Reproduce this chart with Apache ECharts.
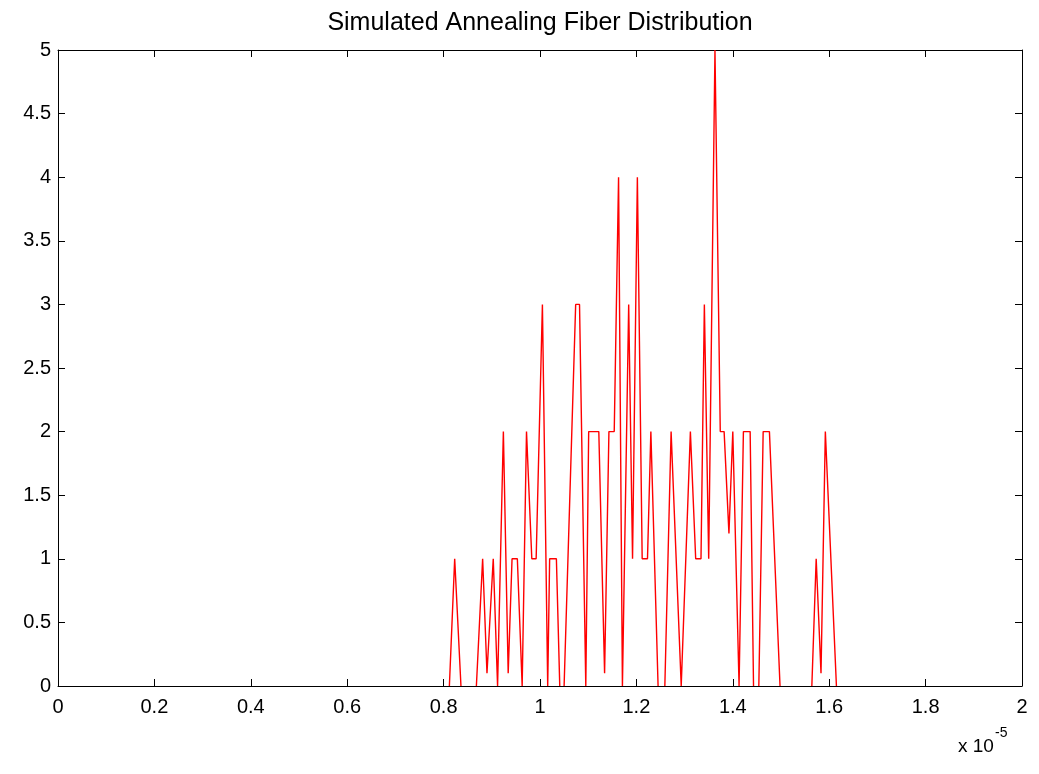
<!DOCTYPE html>
<html>
<head>
<meta charset="utf-8">
<script src="https://cdn.jsdelivr.net/npm/echarts@6/dist/echarts.min.js"></script>
<style>
  html, body { margin: 0; padding: 0; background: #fff; }
  #chart { width: 1039px; height: 774px; }
</style>
</head>
<body>
<div id="chart"></div>
<script>
// fibre diameter (x 10^-5) at each corner
const fiberX = [
  0.812, 0.823, 0.836, 0.868, 0.881, 0.890, 0.903, 0.912, 0.924, 0.934,
  0.942, 0.953, 0.963, 0.972, 0.983, 0.992, 1.005, 1.016, 1.020, 1.034,
  1.041, 1.050, 1.074, 1.082, 1.095, 1.101, 1.122, 1.134, 1.143, 1.154,
  1.163, 1.171, 1.184, 1.192, 1.202, 1.212, 1.223, 1.230, 1.245, 1.259,
  1.272, 1.293, 1.312, 1.323, 1.334, 1.341, 1.350, 1.363, 1.374, 1.382,
  1.392, 1.400, 1.413, 1.422, 1.436, 1.443, 1.454, 1.463, 1.476, 1.498,
  1.564, 1.573, 1.583, 1.592, 1.615
]
// count at each of those points
const fiberCount = [
  0, 1, 0, 0, 1, 0.1, 1, 0, 2, 0.1,
  1, 1, 0, 2, 1, 1, 3, 0, 1, 1,
  0, 0, 3, 3, 0, 2, 2, 0.1, 2, 2,
  4, 0, 3, 1, 4, 1, 1, 2, 0, 0,
  2, 0, 2, 1, 1, 3, 1, 5, 2, 2,
  1.2, 2, 0, 2, 2, 0, 0, 2, 2, 0,
  0, 1, 0.1, 2, 0
]
const xTicks = { min: 0, max: 2, step: 0.2 }
const yTicks = { min: 0, max: 5, step: 0.5 }

// the curve is hidden under the x axis where it sits at zero, so break it there
const lineData = []
fiberX.forEach((x, i) => {
  lineData.push([x, fiberCount[i]])
  if (i < fiberX.length - 1 && fiberCount[i] === 0 && fiberCount[i + 1] === 0) {
    lineData.push([x, '-'])
  }
})

const chart = echarts.init(document.getElementById('chart'))
const font = '"Liberation Sans Narrow", "Liberation Sans", Arial, sans-serif'

const axisCommon = {
  type: 'value',
  axisLine: { show: true, onZero: false, lineStyle: { color: '#000', width: 1 } },
  axisTick: { show: true, inside: true, length: 7, lineStyle: { color: '#000' } },
  splitLine: { show: false }
}

chart.setOption({
  animation: false,
  backgroundColor: '#fff',
  title: {
    text: 'Simulated Annealing Fiber Distribution',
    left: 535,
    top: 6,
    textAlign: 'center',
    textStyle: { fontFamily: font, fontSize: 25, fontWeight: 'normal', color: '#000' }
  },
  grid: { left: 58, right: 17, top: 50, bottom: 88, outerBoundsMode: 'none' },
  xAxis: [
    Object.assign({}, axisCommon, {
      position: 'bottom',
      min: xTicks.min, max: xTicks.max, interval: xTicks.step,
      axisLabel: { margin: 11, fontFamily: font, fontSize: 20, color: '#000' }
    }),
    Object.assign({}, axisCommon, {
      position: 'top',
      min: xTicks.min, max: xTicks.max, interval: xTicks.step,
      axisLabel: { show: false }
    })
  ],
  yAxis: [
    Object.assign({}, axisCommon, {
      position: 'left',
      min: yTicks.min, max: yTicks.max, interval: yTicks.step,
      axisLabel: { margin: 7, fontFamily: font, fontSize: 20, color: '#000' }
    }),
    Object.assign({}, axisCommon, {
      position: 'right',
      min: yTicks.min, max: yTicks.max, interval: yTicks.step,
      axisLabel: { show: false }
    })
  ],
  graphic: [
    {
      type: 'text', left: 958, top: 737,
      style: { text: 'x 10', font: '19px ' + font, fill: '#000' }
    },
    {
      type: 'text', left: 995, top: 726,
      style: { text: '-5', font: '14px ' + font, fill: '#000' }
    }
  ],
  series: [
    {
      type: 'line',
      data: lineData,
      showSymbol: false,
      connectNulls: false,
      lineStyle: { color: '#ff0000', width: 1.4 },
      clip: false
    }
  ]
})
</script>
</body>
</html>
